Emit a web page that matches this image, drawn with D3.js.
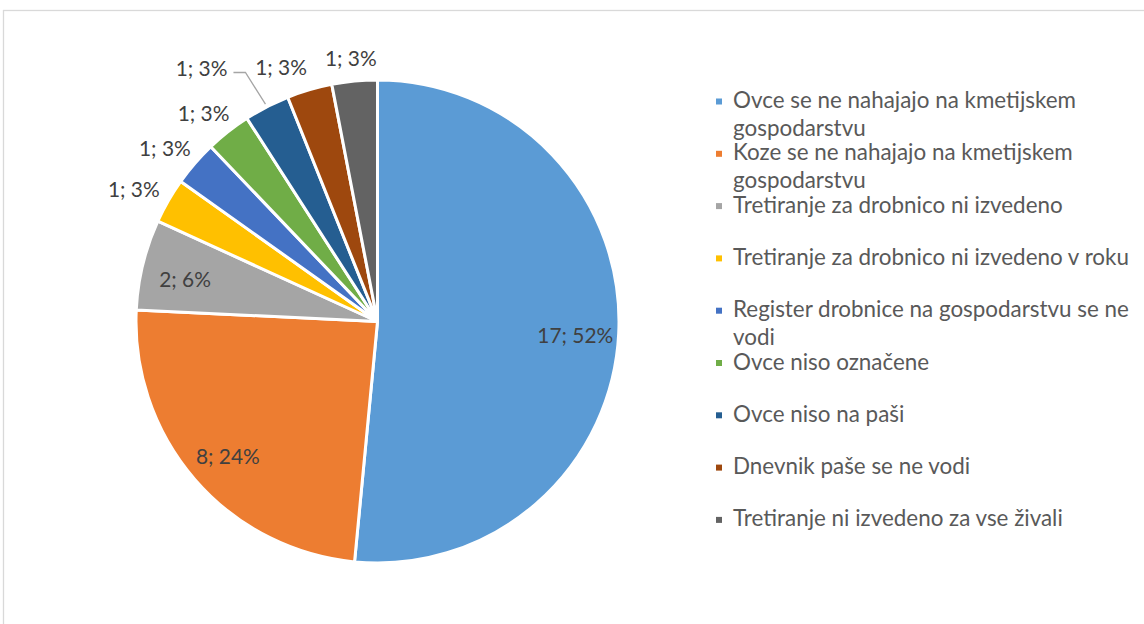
<!DOCTYPE html>
<html><head><meta charset="utf-8">
<script src="https://cdn.jsdelivr.net/npm/d3@7"></script>
<style>
body{margin:0;background:#fff}
svg{display:block}
text{font-family:Lato, "Liberation Sans", sans-serif}
</style>
</head><body>
<svg id="chart" width="1144" height="624"></svg>
<script>
// ---- data ----
const categories = [
  "Ovce se ne nahajajo na kmetijskem gospodarstvu",
  "Koze se ne nahajajo na kmetijskem gospodarstvu",
  "Tretiranje za drobnico ni izvedeno",
  "Tretiranje za drobnico ni izvedeno v roku",
  "Register drobnice na gospodarstvu se ne vodi",
  "Ovce niso označene",
  "Ovce niso na paši",
  "Dnevnik paše se ne vodi",
  "Tretiranje ni izvedeno za vse živali"
];
const values = [17, 8, 2, 1, 1, 1, 1, 1, 1];
const colors = ["#5B9BD5","#ED7D31","#A5A5A5","#FFC000","#4472C4","#70AD47","#255E91","#9E480E","#636363"];

// ---- layout ----
const cx = 377.5, cy = 321.5, R = 241.5;
const svg = d3.select("#chart");

svg.append("rect").attr("x",3.5).attr("y",10.5).attr("width",1160).attr("height",640)
  .attr("fill","#fff").attr("stroke","#D9D9D9").attr("stroke-width",1.3);

const total = d3.sum(values);
const data = values.map((v,i)=>({v, i, name:categories[i], color:colors[i]}));
const pie = d3.pie().value(d=>d.v).sort(null);
const arcs = pie(data);
const arc = d3.arc().innerRadius(0).outerRadius(R);

const g = svg.append("g").attr("transform",`translate(${cx},${cy})`);
g.selectAll("path.slice").data(arcs).join("path")
  .attr("class","slice")
  .attr("d",arc)
  .attr("fill",d=>d.data.color)
  .attr("stroke","#fff").attr("stroke-width",3).attr("stroke-linejoin","round");

function measure(str, size){
  const t = svg.append("text").attr("font-size",size).text(str);
  const w = t.node().getComputedTextLength();
  t.remove();
  return w;
}
function fitSize(str, target, base){ return base*target/measure(str, base); }
const labelSize = fitSize("17; 52%", 76, 20);
const legendSize = fitSize("Tretiranje za drobnico ni izvedeno v roku", 396, 20);

// ---- data labels ----
const labelColor = "#404040";
const lbls = arcs.map(a=>{
  const mid = (a.startAngle+a.endAngle)/2;
  const ux = Math.sin(mid), uy = -Math.cos(mid);
  const txt = `${a.data.v}; ${Math.round(a.data.v/total*100)}%`;
  const w = measure(txt, labelSize), h = 20;
  let x, y, inside = a.data.v/total > 0.05;
  if (inside){
    const r = R*0.82;
    x = ux*r; y = uy*r + 4;
  } else {
    const r = R+14;
    x = ux*r + ux*w/2; y = uy*r + uy*h/2;
  }
  return {a, mid, ux, uy, txt, w, h, x, y, inside, leader:false};
});
// overlap avoidance for outside labels
const outs = lbls.filter(l=>!l.inside);
const minGap = 18;
for (let k = outs.length-2; k>=0; k--){
  const A = outs[k], B = outs[k+1];
  const ox = (A.w+B.w)/2 - Math.abs(A.x-B.x);
  const oy = (A.h+B.h)/2 - Math.abs(A.y-B.y);
  if (oy>0){
    if (ox>0){ A.x -= 47; A.y -= 18; A.leader = true; }
    else if (-ox < minGap){ A.x -= (minGap + ox); }
  }
}
const lg = g.append("g");
lg.selectAll("text").data(lbls).join("text")
  .attr("x",d=>d.x).attr("y",d=>d.y)
  .attr("text-anchor","middle").attr("dominant-baseline","central")
  .attr("font-size",labelSize).attr("fill",labelColor)
  .text(d=>d.txt);
lbls.filter(l=>l.leader).forEach(l=>{
  const xr = l.x + l.w/2 + 6, ly = l.y + 5;
  const end = [Math.sin(l.mid)*(R+3), -Math.cos(l.mid)*(R+3)];
  lg.append("path")
    .attr("d", d3.line()([[xr, ly],[xr+12, ly], end]))
    .attr("fill","none").attr("stroke","#A5A5A5").attr("stroke-width",1.3);
});

// ---- legend ----
const legX = 716, legTextX = 733, legY0 = 108, slot = 52.3, lineH = 27.5, maxW = 402;
const leg = svg.append("g");
categories.forEach((name,i)=>{
  const by = legY0 + i*slot;
  leg.append("rect").attr("x",legX).attr("y",by-9.5).attr("width",6).attr("height",6).attr("fill",colors[i]);
  const words = name.split(" ");
  const lines = []; let cur = "";
  words.forEach(wd=>{
    const test = cur ? cur+" "+wd : wd;
    if (measure(test, legendSize) > maxW && cur){ lines.push(cur); cur = wd; }
    else cur = test;
  });
  lines.push(cur);
  const t = leg.append("text").attr("x",legTextX).attr("y",by)
    .attr("font-size",legendSize).attr("fill","#595959");
  lines.forEach((ln,j)=>{
    t.append("tspan").attr("x",legTextX).attr("y",by + j*lineH).text(ln);
  });
});
</script>
</body></html>
